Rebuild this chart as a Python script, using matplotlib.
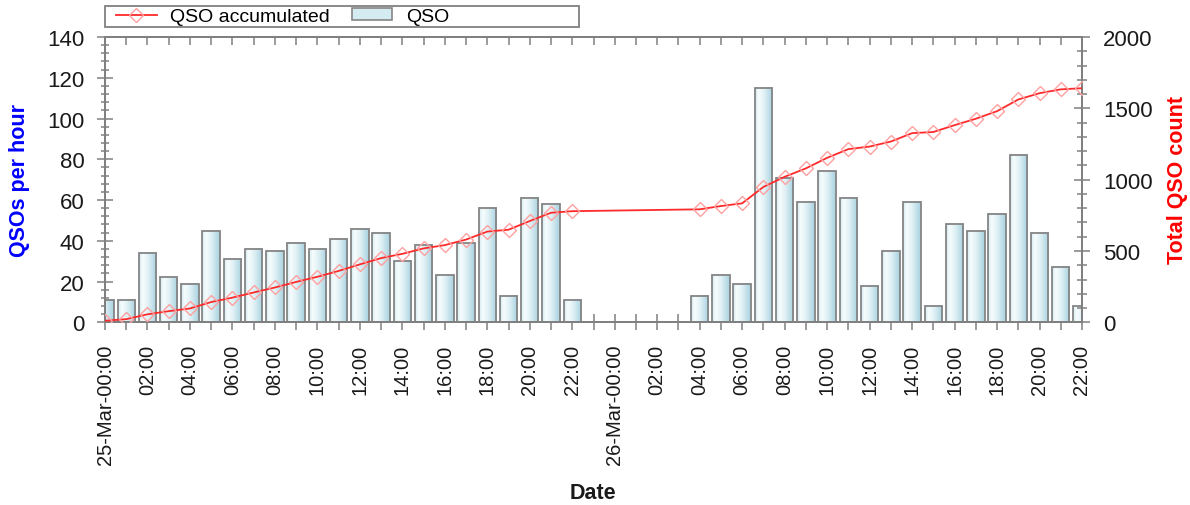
import matplotlib
matplotlib.use('Agg')
import matplotlib.pyplot as plt
import numpy as np
from matplotlib.colors import LinearSegmentedColormap
from matplotlib.patches import Rectangle
from matplotlib.lines import Line2D
from matplotlib.ticker import MultipleLocator

plt.rcParams['font.family'] = ['Liberation Sans', 'DejaVu Sans']

# ---- data ----
hours = list(range(0, 23)) + list(range(28, 47))   # hours since 25-Mar 00:00
qso_per_hour = [11, 11, 34, 22, 19, 45, 31, 36, 35, 39, 36, 41, 46, 44, 30, 38, 23, 39, 56, 13, 61, 58, 11,
                13, 23, 19, 115, 71, 59, 74, 61, 18, 35, 59, 8, 48, 45, 53, 82, 44, 27, 8]
qso_accumulated = [11, 22, 56, 78, 97, 142, 173, 209, 244, 283, 319, 360, 406, 450, 480, 518, 541, 580, 636,
                   649, 710, 768, 779,
                   792, 815, 834, 949, 1020, 1079, 1153, 1214, 1232, 1267, 1326, 1334, 1382, 1427, 1480,
                   1562, 1606, 1633, 1641]
tick_hours = list(range(0, 47, 2))
tick_labels = ['25-Mar-00:00', '02:00', '04:00', '06:00', '08:00', '10:00', '12:00', '14:00', '16:00',
               '18:00', '20:00', '22:00',
               '26-Mar-00:00', '02:00', '04:00', '06:00', '08:00', '10:00', '12:00', '14:00', '16:00',
               '18:00', '20:00', '22:00']

W, H = 1190, 506
GRAY = '#808080'
fig = plt.figure(figsize=(W / 100, H / 100), dpi=100)
L, R, T, B = 105, 1082, 38, 323.3
ax = fig.add_axes([L / W, 1 - B / H, (R - L) / W, (B - T) / H])
ax2 = ax.twinx()

# gradient bars
cmap = LinearSegmentedColormap.from_list(
    'g', [(0.0, '#d2eaf1'), (0.2, '#f7fcfd'), (0.5, '#e2f1f6'), (1.0, '#a6d2df')])
grad = np.linspace(0, 1, 64).reshape(1, -1)
bars = ax.bar(hours, qso_per_hour, width=0.82, facecolor='none', edgecolor='#858585',
              linewidth=1.3, zorder=3)
for b in bars:
    x0, w, h = b.get_x(), b.get_width(), b.get_height()
    ax.imshow(grad, extent=[x0, x0 + w, 0, h], cmap=cmap, aspect='auto', zorder=2,
              interpolation='bilinear')
ax.set_xlim(0, 46)
ax.set_ylim(0, 140)
ax.set_aspect('auto')

# accumulated line
ax2.plot(hours, qso_accumulated, color='#ff2a2a', lw=1.3, marker='D', ms=6.8,
         mfc='none', mec='#ffa0a0', mew=1.0, zorder=5)
ax2.set_ylim(0, 2000)
ax2.set_xlim(0, 46)

# spines
for a in (ax, ax2):
    for s in a.spines.values():
        s.set_color(GRAY)
        s.set_linewidth(1.4)

# x ticks
ax.set_xticks(tick_hours, tick_labels, rotation=90)
ax.set_xticks(range(0, 47), minor=True)
ax.tick_params(axis='x', which='both', direction='inout', length=11, width=1.1, color=GRAY,
               labelsize=14.5, pad=10, labelcolor='#1a1a1a')
secx = ax.secondary_xaxis('top')
secx.set_xticks(range(0, 47))
secx.set_xticklabels([])
secx.tick_params(direction='in', length=5.5, width=1.1, color=GRAY)
secx.spines['top'].set_color(GRAY)
secx.spines['top'].set_linewidth(1.4)

# left y ticks
ax.yaxis.set_major_locator(MultipleLocator(20))
ax.yaxis.set_minor_locator(MultipleLocator(4))
ax.tick_params(axis='y', which='major', direction='inout', length=11.5, width=1.1, color=GRAY,
               labelsize=16, pad=9, labelcolor='#1a1a1a')
ax.tick_params(axis='y', which='minor', direction='inout', length=6, width=1.1, color=GRAY)

# right y ticks
ax2.yaxis.set_major_locator(MultipleLocator(500))
ax2.yaxis.set_minor_locator(MultipleLocator(100))
ax2.tick_params(axis='y', which='major', direction='inout', length=12, width=1.1, color=GRAY,
                labelsize=16, pad=9, labelcolor='#1a1a1a')
ax2.tick_params(axis='y', which='minor', direction='inout', length=6.5, width=1.1, color=GRAY)

# axis labels
fig.text(20 / W, 1 - 181 / H, 'QSOs per hour', rotation=90, ha='center', va='center',
         color='#0000ff', fontsize=15.5, fontweight='bold')
fig.text(1178 / W, 1 - 180 / H, 'Total QSO count', rotation=90, ha='center', va='center',
         color='#ff0000', fontsize=15.5, fontweight='bold')
fig.text(593 / W, 1 - 494 / H, 'Date', ha='center', va='center', color='#1a1a1a',
         fontsize=15.5, fontweight='bold')

# legend
h_line = Line2D([], [], color='#ff2a2a', lw=1.3, marker='D', ms=6.8, mfc='none',
                mec='#ffa0a0', mew=1.0)
h_bar = Rectangle((0, 0), 1, 1, facecolor='#d4ebf2', edgecolor='#858585', linewidth=1.2)
fig.legend([h_line, h_bar], ['QSO accumulated', 'QSO'], loc='center left',
           bbox_to_anchor=(116 / W, 1 - 17.5 / H), ncol=2, frameon=False, fontsize=14,
           borderpad=0, borderaxespad=0, handlelength=2.1, handleheight=0.55,
           handletextpad=0.7, columnspacing=1.1)
fig.patches.append(Rectangle((105 / W, 1 - 28.3 / H), 474 / W, 21.6 / H,
                             transform=fig.transFigure, facecolor='none',
                             edgecolor=GRAY, linewidth=1.3))

fig.savefig('out.png', dpi=100)
